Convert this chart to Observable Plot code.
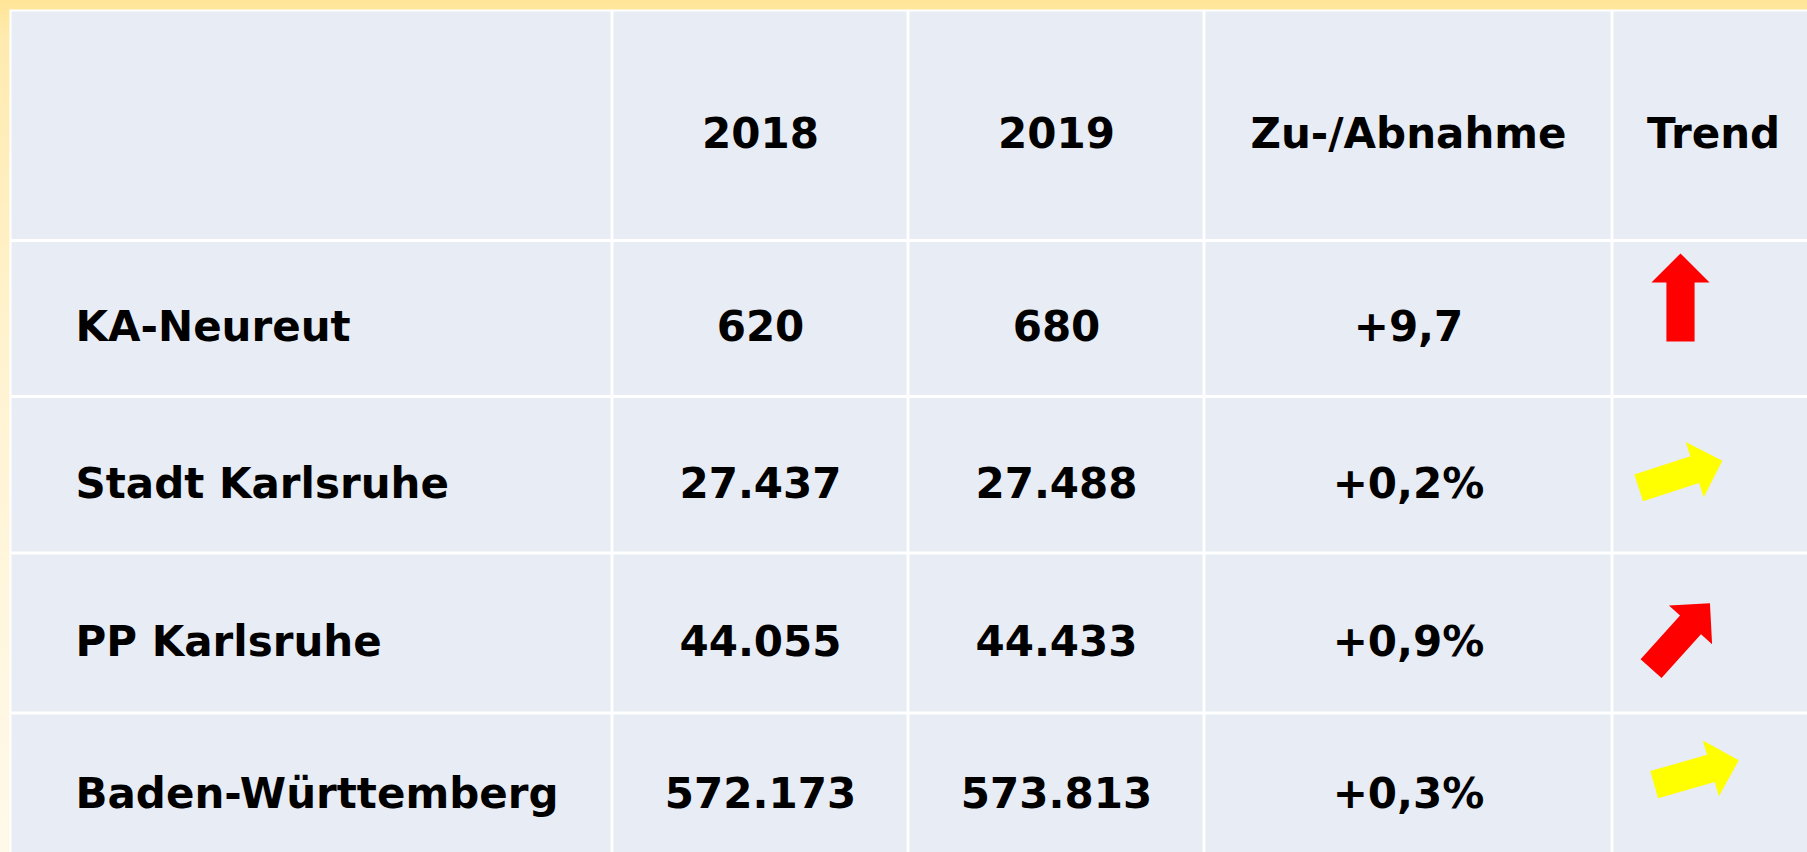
<!DOCTYPE html>
<html>
<head>
<meta charset="utf-8">
<script src="https://cdn.jsdelivr.net/npm/d3@7"></script>
<script src="https://cdn.jsdelivr.net/npm/@observablehq/plot@0.6"></script>
<style>
  html, body { margin: 0; padding: 0; overflow: hidden; background: #FFF4D4; }
  #chart svg { display: block; }
</style>
</head>
<body>
<div id="chart"></div>
<script>
// ---------- data ----------
const headers = ["", "2018", "2019", "Zu-/Abnahme", "Trend"];
const regions = ["KA-Neureut", "Stadt Karlsruhe", "PP Karlsruhe", "Baden-Württemberg"];
const values2018 = ["620", "27.437", "44.055", "572.173"];
const values2019 = ["680", "27.488", "44.433", "573.813"];
const changes = ["+9,7", "+0,2%", "+0,9%", "+0,3%"];
const trendAngles = [0, 72, 42, 74];            // arrow direction, degrees clockwise from "up"
const trendColors = ["#FF0000", "#FFFF00", "#FF0000", "#FFFF00"];

// ---------- layout (table units) ----------
const colWidths = [602, 296, 296, 408, 202];
const rowHeights = [230.5, 156, 156.5, 160, 144];
const arrowNudge = [[-33, -21.5], [-33, -1], [-33, 2.5], [-17, -13]];

const colEdges = [0, ...Array.from(d3.cumsum(colWidths))];
const rowEdges = [0, ...Array.from(d3.cumsum(rowHeights))];
const cx = c => (colEdges[c] + colEdges[c + 1]) / 2;
const cy = r => (rowEdges[r] + rowEdges[r + 1]) / 2;

const cells = [];
for (let r = 0; r < rowHeights.length; r++)
  for (let c = 0; c < colWidths.length; c++)
    cells.push({x1: colEdges[c], x2: colEdges[c + 1], y1: rowEdges[r], y2: rowEdges[r + 1]});

const headerCells = headers.map((t, c) => ({col: c, row: 0, text: t}));
const labelCells = regions.map((t, i) => ({col: 0, row: i + 1, text: t}));
const valueCells = [values2018, values2019, changes].flatMap((arr, k) =>
  arr.map((t, i) => ({col: k + 1, row: i + 1, text: t})));
const arrows = trendAngles.map((a, i) => ({row: i + 1, angle: a, color: trendColors[i], nudge: arrowNudge[i]}));

// filled block arrow pointing "up"
const blockArrow = {
  draw(ctx, l) {
    const sw = l * 0.32 / 2, hw = l * 0.66 / 2, hh = l * 0.33;
    ctx.moveTo(-sw, 0);
    ctx.lineTo(-sw, -(l - hh));
    ctx.lineTo(-hw, -(l - hh));
    ctx.lineTo(0, -l);
    ctx.lineTo(hw, -(l - hh));
    ctx.lineTo(sw, -(l - hh));
    ctx.lineTo(sw, 0);
    ctx.closePath();
  }
};

const font = {fontFamily: "DejaVu Sans", fontWeight: "bold", fontSize: 42, fill: "#000", dy: 9};

const chart = Plot.plot({
  width: 1807,
  height: 852,
  margin: 0,
  x: {type: "linear", domain: [0, 1797], range: [10, 1807], axis: null},
  y: {type: "linear", domain: [0, 842], range: [10, 852], axis: null},
  color: {type: "identity"},
  style: {
    background: "linear-gradient(180deg, #FFE597 0px, #FFEBB0 40px, #FFF3D2 380px, #FFF9EA 852px)",
    overflow: "hidden"
  },
  marks: [
    Plot.rect([{}], {x1: () => colEdges[0] - 0.5, x2: () => colEdges[colEdges.length - 1],
                     y1: () => rowEdges[0] - 0.5, y2: () => rowEdges[rowEdges.length - 1], fill: "#FFFFFF"}),
    Plot.rect(cells, {x1: "x1", x2: "x2", y1: "y1", y2: "y2", fill: "#E8ECF4", inset: 1.5}),
    Plot.text(headerCells, {x: d => cx(d.col), y: d => cy(d.row), text: "text", textAnchor: "middle", ...font}),
    Plot.text(labelCells, {x: d => colEdges[d.col], y: d => cy(d.row), text: "text", textAnchor: "start", dx: 65, ...font}),
    Plot.text(valueCells, {x: d => cx(d.col), y: d => cy(d.row), text: "text", textAnchor: "middle", ...font}),
    Plot.vector(arrows, {
      x: d => cx(4) + d.nudge[0],
      y: d => cy(d.row) + d.nudge[1],
      rotate: "angle",
      length: 88,
      anchor: "middle",
      shape: blockArrow,
      fill: "color",
      stroke: "none"
    })
  ]
});

document.getElementById("chart").appendChild(chart);
</script>
</body>
</html>
